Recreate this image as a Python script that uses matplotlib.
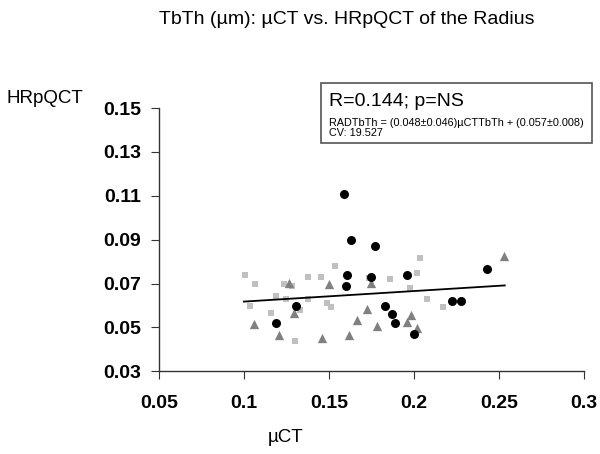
import matplotlib
matplotlib.use('Agg')
import matplotlib.pyplot as plt
import numpy as np

plt.rcParams['font.family'] = ['Liberation Sans', 'DejaVu Sans']

# black circles
circ_x = [0.159, 0.163, 0.177, 0.1606, 0.160, 0.175, 0.196, 0.243, 0.2225, 0.228,
          0.183, 0.187, 0.189, 0.200, 0.1305, 0.119]
circ_y = [0.111, 0.0897, 0.087, 0.0738, 0.069, 0.073, 0.0738, 0.0768, 0.062, 0.062,
          0.0598, 0.056, 0.052, 0.047, 0.0598, 0.052]

# dark grey triangles
tri_x = [0.1057, 0.1208, 0.1267, 0.1296, 0.150, 0.146, 0.1616, 0.1665, 0.1727, 0.175,
         0.1782, 0.1957, 0.1982, 0.202, 0.253]
tri_y = [0.0516, 0.0468, 0.0703, 0.0564, 0.0697, 0.0454, 0.0468, 0.0533, 0.0586, 0.0703,
         0.0505, 0.0527, 0.0559, 0.0498, 0.0824]

# light grey squares
sq_x = [0.1008, 0.1063, 0.1035, 0.1186, 0.1162, 0.1237, 0.125, 0.1282, 0.130, 0.133,
        0.1376, 0.1376, 0.1453, 0.1535, 0.1488, 0.1512, 0.1737, 0.1859, 0.1978, 0.2017,
        0.2037, 0.2076, 0.2173]
sq_y = [0.0738, 0.070, 0.0598, 0.0642, 0.0568, 0.070, 0.0629, 0.0691, 0.0439, 0.0579,
        0.073, 0.0629, 0.073, 0.0779, 0.0611, 0.0593, 0.0724, 0.072, 0.068, 0.0748,
        0.0816, 0.0629, 0.0592]

slope, intercept = 0.048, 0.057
fit_range = [0.1, 0.2535]

xticks = [0.05, 0.1, 0.15, 0.2, 0.25, 0.3]
xticklabels = ['0.05', '0.1', '0.15', '0.2', '0.25', '0.3']
yticks = [0.03, 0.05, 0.07, 0.09, 0.11, 0.13, 0.15]

fig = plt.figure(figsize=(6, 4.54), dpi=100)
ax = fig.add_axes([0.265, 0.182, 0.708, 0.58])

ax.scatter(sq_x, sq_y, marker='s', s=22, color='#c0c0c0', linewidths=0, zorder=2)
ax.scatter(tri_x, tri_y, marker='^', s=45, color='#808080', linewidths=0, zorder=3)
ax.scatter(circ_x, circ_y, marker='o', s=42, color='black', linewidths=0, zorder=4)

fx = np.array(fit_range)
ax.plot(fx, slope * fx + intercept, color='black', lw=1.3, zorder=5)

ax.set_xlim(0.05, 0.3)
ax.set_ylim(0.03, 0.15)
ax.set_xticks(xticks)
ax.set_xticklabels(xticklabels)
ax.set_yticks(yticks)
ax.set_yticklabels(['%.2f' % v for v in yticks])
for lab in ax.get_xticklabels() + ax.get_yticklabels():
    lab.set_fontweight('bold')
    lab.set_fontsize(14)
ax.tick_params(direction='out', length=6, width=0.8, color='#333333')
ax.tick_params(axis='x', pad=11)
ax.tick_params(axis='y', pad=7)
ax.spines['top'].set_visible(False)
ax.spines['right'].set_visible(False)
for s in ['left', 'bottom']:
    ax.spines[s].set_color('#333333')
    ax.spines[s].set_linewidth(1.0)

fig.text(0.578, 0.958, 'TbTh (µm): µCT vs. HRpQCT of the Radius', ha='center', va='center', fontsize=14)
fig.text(0.01, 0.784, 'HRpQCT', ha='left', va='center', fontsize=13.5)
fig.text(0.447, 0.037, 'µCT', ha='left', va='center', fontsize=13.5)

# stats box
box = plt.Rectangle((0.535, 0.685), 0.452, 0.132, transform=fig.transFigure,
                    facecolor='white', edgecolor='#555555', lw=1.2, zorder=10)
fig.patches.append(box)
fig.text(0.548, 0.777, 'R=0.144; p=NS', fontsize=14, va='center', ha='left', zorder=11)
fig.text(0.548, 0.730, 'RADTbTh = (0.048±0.046)µCTTbTh + (0.057±0.008)', fontsize=7.8,
         va='center', ha='left', zorder=11)
fig.text(0.548, 0.707, 'CV: 19.527', fontsize=7.8, va='center', ha='left', zorder=11)

fig.savefig('out.png', dpi=100)
